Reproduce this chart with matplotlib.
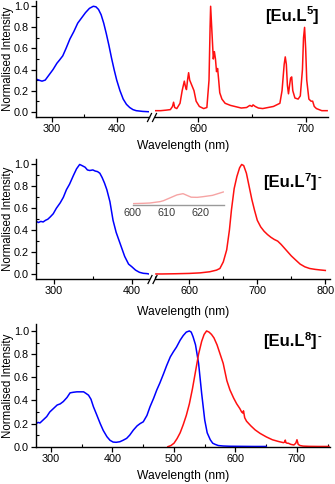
import numpy as np
import matplotlib
matplotlib.use("Agg")
import matplotlib.pyplot as plt
from matplotlib.lines import Line2D
from matplotlib.ticker import MultipleLocator, FormatStrFormatter

plt.rcParams['font.family'] = ['Liberation Sans', 'DejaVu Sans']

W, H = 335, 484
BLUE = '#0000ff'
RED = '#ff1010'

# --- [Eu.L5] ---
p1_ex_x = [276, 280, 285, 290, 296, 302, 308, 312, 317, 322, 328, 334, 340, 346, 352,
           358, 364, 368, 372, 376, 380, 384, 388, 392, 396, 400, 405, 410, 415, 420,
           425, 430, 440, 449]
p1_ex_y = [0.31, 0.30, 0.29, 0.30, 0.35, 0.40, 0.46, 0.49, 0.53, 0.60, 0.69, 0.76, 0.84,
           0.89, 0.94, 0.98, 1.0, 0.995, 0.97, 0.92, 0.84, 0.74, 0.63, 0.51, 0.40, 0.30,
           0.20, 0.12, 0.07, 0.04, 0.02, 0.01, 0.003, 0.0]
p1_em_x = [560, 565, 570, 574, 576, 577, 578, 580, 583, 585, 587, 588, 589, 590, 591,
           592, 594, 596, 598, 601, 605, 608, 610, 611, 611.5, 612.5, 614, 615, 616, 617,
           618, 619, 620, 622, 625, 630, 640, 645, 648, 650, 651, 653, 656, 660, 670,
           676, 678, 680, 681, 682, 683, 684, 685, 686, 687, 688, 690, 693, 695, 697,
           698, 699, 700, 701, 703, 705, 706.5, 708, 710, 715, 720]
p1_em_y = [0.01, 0.01, 0.015, 0.02, 0.05, 0.09, 0.04, 0.03, 0.08, 0.20, 0.29, 0.24, 0.21,
           0.30, 0.37, 0.30, 0.25, 0.20, 0.10, 0.05, 0.03, 0.04, 0.30, 0.80, 1.0, 0.80,
           0.50, 0.57, 0.50, 0.38, 0.41, 0.30, 0.18, 0.12, 0.08, 0.06, 0.035, 0.04, 0.06,
           0.05, 0.065, 0.05, 0.035, 0.03, 0.05, 0.08, 0.20, 0.45, 0.52, 0.45, 0.25, 0.17,
           0.25, 0.32, 0.33, 0.20, 0.13, 0.12, 0.15, 0.40, 0.70, 0.80, 0.60, 0.30, 0.12,
           0.10, 0.10, 0.05, 0.03, 0.01, 0.01]

# --- [Eu.L7]- ---
p2_ex_x = [277, 280, 283, 286, 289, 292, 295, 299, 303, 308, 312, 316, 320, 325, 329,
           333, 336, 340, 343, 346, 350, 353, 356, 359, 362, 365, 368, 372, 376, 380,
           385, 391, 396, 400, 405, 410, 415, 420, 422]
p2_ex_y = [0.48, 0.47, 0.48, 0.475, 0.49, 0.50, 0.52, 0.55, 0.60, 0.65, 0.70, 0.77, 0.82,
           0.90, 0.96, 1.0, 0.99, 0.975, 0.95, 0.945, 0.95, 0.94, 0.935, 0.92, 0.88, 0.83,
           0.77, 0.66, 0.49, 0.38, 0.28, 0.16, 0.09, 0.067, 0.035, 0.015, 0.006, 0.003, 0.0]
p2_em_x = [551, 560, 580, 600, 616, 630, 640, 645, 650, 655, 659, 662, 666, 670, 674,
           677, 680, 684, 688, 692, 696, 700, 705, 710, 715, 720, 725, 730, 735, 740,
           745, 750, 756, 763, 770, 777, 785, 792, 800]
p2_em_y = [0.0, 0.0, 0.002, 0.005, 0.01, 0.02, 0.035, 0.05, 0.11, 0.22, 0.40, 0.585, 0.78,
           0.89, 0.97, 1.0, 0.99, 0.92, 0.80, 0.68, 0.58, 0.49, 0.43, 0.39, 0.36, 0.335,
           0.315, 0.30, 0.27, 0.235, 0.20, 0.165, 0.13, 0.09, 0.065, 0.05, 0.042, 0.037,
           0.032]
inset_x = [600, 603, 605, 608, 609, 611, 613, 614.8, 617.2, 619, 620.6, 623.5, 626.7]
inset_y = [0.11, 0.13, 0.15, 0.24, 0.30, 0.49, 0.68, 0.76, 0.53, 0.52, 0.56, 0.65, 0.87]

# --- [Eu.L8]- ---
p3_ex_x = [276, 279, 282, 287, 293, 298, 304, 310, 315, 320, 326, 331, 336, 342, 348,
           353, 357, 361, 365, 369, 374, 380, 385, 391, 396, 401, 406, 412, 417, 423,
           428, 434, 440, 445, 450, 456, 461, 467, 472, 477, 483, 488, 494, 499, 504,
           510, 515, 520, 525, 528, 531, 535, 540, 545, 550, 554, 559, 563, 567, 572,
           580, 590, 610, 630, 650]
p3_ex_y = [0.20, 0.21, 0.205, 0.23, 0.26, 0.30, 0.33, 0.36, 0.37, 0.39, 0.425, 0.465,
           0.47, 0.474, 0.474, 0.474, 0.46, 0.445, 0.41, 0.345, 0.28, 0.20, 0.14, 0.086,
           0.055, 0.04, 0.038, 0.043, 0.055, 0.072, 0.10, 0.144, 0.18, 0.20, 0.215, 0.27,
           0.345, 0.42, 0.49, 0.55, 0.63, 0.70, 0.776, 0.82, 0.86, 0.92, 0.96, 0.99, 1.0,
           0.99, 0.95, 0.88, 0.72, 0.46, 0.23, 0.12, 0.06, 0.03, 0.02, 0.01, 0.006, 0.004,
           0.003, 0.002, 0.002]
p3_em_x = [490, 495, 500, 505, 510, 515, 520, 525, 530, 535, 540, 545, 549, 553, 557,
           561, 565, 570, 575, 580, 586, 591, 597, 602, 607, 610, 612, 613, 615, 618,
           625, 632, 640, 650, 660, 670, 678, 680, 681, 682, 684, 686, 690, 695, 698,
           700, 702, 705, 710, 720, 735, 752]
p3_em_y = [0.0, 0.01, 0.03, 0.07, 0.12, 0.19, 0.27, 0.37, 0.50, 0.65, 0.80, 0.91, 0.97,
           1.0, 0.99, 0.97, 0.94, 0.88, 0.80, 0.72, 0.57, 0.49, 0.42, 0.37, 0.33, 0.30,
           0.29, 0.31, 0.25, 0.22, 0.18, 0.145, 0.115, 0.085, 0.06, 0.045, 0.035, 0.04,
           0.057, 0.035, 0.03, 0.03, 0.02, 0.015, 0.03, 0.06, 0.02, 0.01, 0.005, 0.003,
           0.002, 0.002]

# complex name, superscript, charge
labels = [('[Eu.L', '5', ''), ('[Eu.L', '7', '-'), ('[Eu.L', '8', '-')]


def box(x0, y0, x1, y1):
    return [x0 / W, 1 - y1 / H, (x1 - x0) / W, (y1 - y0) / H]


def style(ax, xmaj, show_y=True):
    for s in ['top', 'right']:
        ax.spines[s].set_visible(False)
    for s in ['left', 'bottom']:
        ax.spines[s].set_linewidth(1.0)
    ax.xaxis.set_major_locator(MultipleLocator(xmaj))
    ax.xaxis.set_minor_locator(MultipleLocator(xmaj / 2))
    ax.tick_params(which='major', direction='out', length=3.5, width=0.9,
                   labelsize=7.8, pad=1.5)
    ax.tick_params(which='minor', direction='in', length=2.5, width=0.8)
    if show_y:
        ax.yaxis.set_major_locator(MultipleLocator(0.2))
        ax.yaxis.set_minor_locator(MultipleLocator(0.1))
        ax.yaxis.set_major_formatter(FormatStrFormatter('%.1f'))
    else:
        ax.spines['left'].set_visible(False)
        ax.tick_params(axis='y', which='both', left=False, labelleft=False)


def break_marks(fig, xpx, ypx):
    for dx in (0, 5):
        fig.add_artist(Line2D([(xpx + dx - 2) / W, (xpx + dx + 2) / W],
                              [1 - (ypx + 4) / H, 1 - (ypx - 4) / H],
                              color='black', lw=0.9))


def complex_label(fig, xpx, ypx, name, sup, charge):
    # bold label with superscript ligand number and optional charge
    t = fig.text(xpx / W, 1 - ypx / H, name, ha='left', va='baseline',
                 fontsize=12, fontweight='bold')
    fig.canvas.draw()
    bb = t.get_window_extent()
    s = fig.text(bb.x1 / W, 1 - (ypx - 6.5) / H, sup, ha='left', va='baseline',
                 fontsize=8, fontweight='bold')
    fig.canvas.draw()
    bb = s.get_window_extent()
    c = fig.text(bb.x1 / W, 1 - ypx / H, ']', ha='left', va='baseline',
                 fontsize=12, fontweight='bold')
    if charge:
        fig.canvas.draw()
        bb = c.get_window_extent()
        fig.text(bb.x1 / W + 0.003, 1 - (ypx - 6.5) / H, charge, ha='left',
                 va='baseline', fontsize=8, fontweight='bold')


fig = plt.figure(figsize=(3.35, 4.84), dpi=100)

# panel 1
a1 = fig.add_axes(box(36, 1, 149, 117))
a1.plot(p1_ex_x, p1_ex_y, color=BLUE, lw=1.1)
a1.set_xlim(275.8, 449.7)
a1.set_ylim(-0.05, 1.05)
style(a1, 100)
b1 = fig.add_axes(box(155, 1, 328, 117), sharey=a1)
b1.plot(p1_em_x, p1_em_y, color=RED, lw=1.1)
b1.set_xlim(559.7, 720.8)
style(b1, 100, show_y=False)
break_marks(fig, 149.5, 117.5)

# panel 2
a2 = fig.add_axes(box(36, 159, 149, 279))
a2.plot(p2_ex_x, p2_ex_y, color=BLUE, lw=1.1)
a2.set_xlim(276.8, 422.3)
a2.set_ylim(-0.046, 1.05)
style(a2, 100)
b2 = fig.add_axes(box(155, 159, 330, 279), sharey=a2)
b2.plot(p2_em_x, p2_em_y, color=RED, lw=1.1)
b2.set_xlim(549.6, 806.9)
style(b2, 100, show_y=False)
break_marks(fig, 150, 279.5)

ins = fig.add_axes(box(133, 190, 224.3, 205.3))
ins.plot(inset_x, inset_y, color='#f6a4a4', lw=1.0)
ins.set_xlim(600, 627)
ins.set_ylim(0, 1)
ins.patch.set_alpha(0)
for s in ['top', 'right', 'left']:
    ins.spines[s].set_visible(False)
ins.spines['bottom'].set_color('#9a9a9a')
ins.spines['bottom'].set_linewidth(1.0)
ins.set_yticks([])
ins.set_xticks([600, 610, 620])
ins.tick_params(axis='x', length=0, labelsize=7.8, pad=2, labelcolor='#3a3a3a')

# panel 3
a3 = fig.add_axes(box(36, 324, 330, 446.7))
a3.plot(p3_ex_x, p3_ex_y, color=BLUE, lw=1.1)
a3.plot(p3_em_x, p3_em_y, color=RED, lw=1.1)
a3.set_xlim(275.6, 753.7)
a3.set_ylim(0, 1.06)
style(a3, 100)

for yc, xl_y, (tx, ty), lab in [(59, 146, (265, 21), labels[0]),
                                (219, 312, (263, 187), labels[1]),
                                (385.5, 476, (263, 346), labels[2])]:
    fig.text(8.5 / W, 1 - yc / H, 'Normalised Intensity', rotation=90,
             ha='center', va='center', fontsize=8.3)
    fig.text(183 / W, 1 - xl_y / H, 'Wavelength (nm)', ha='center', va='center',
             fontsize=8.7)
    complex_label(fig, tx, ty, *lab)

fig.savefig('out.png', dpi=100)
